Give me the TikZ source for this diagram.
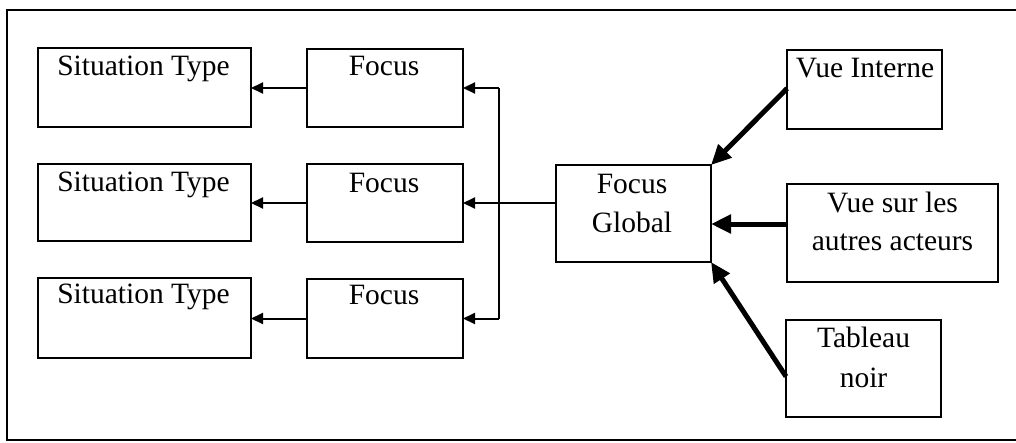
\documentclass[tikz,border=0pt]{standalone}
\usepackage{fontspec}
\setmainfont{Liberation Serif}
\usetikzlibrary{arrows.meta}
\newcommand\bx[5]{\node[box, minimum width={#4-#2}, minimum height={#5-#3}] (#1) at ({(#2+#4)/2},{(#3+#5)/2}) {};}
\begin{document}
\begin{tikzpicture}[x=1pt,y=-1pt,
 box/.style={draw, line width=2pt, inner sep=0pt, outer sep=0pt, rectangle},
 lbl/.style={anchor=base, inner sep=0pt, font=\fontsize{29.5}{36}\selectfont},
 smallarrow/.style={line width=2pt, -{Triangle[length=12pt,width=11pt]}},
 bigarrow/.style={line width=5pt, -{Triangle[length=20pt,width=18pt]}}]
\useasboundingbox (0,0) rectangle (1016,442);
\draw[line width=2pt] (1016,10) -- (7,10) -- (7,440) -- (1016,440);
% boxes
\bx{st1}{38}{48}{251}{127}
\bx{st2}{38}{164}{251}{241}
\bx{st3}{38}{278}{251}{358}
\bx{f1}{307}{49}{463}{127}
\bx{f2}{307}{164}{463}{242}
\bx{f3}{307}{279}{463}{358}
\bx{fg}{556}{165}{711}{262}
\bx{vi}{787}{50}{942}{129}
\bx{vs}{787}{184}{998}{282}
\bx{tn}{786}{320}{941}{417}
% texts
\node[lbl] (st1t) at (143.5,75) {Situation Type};
\node[lbl] (st2t) at (143.5,191) {Situation Type};
\node[lbl] (st3t) at (143.5,303) {Situation Type};
\node[lbl] (f1t) at (384,75) {Focus};
\node[lbl] (f2t) at (384,192) {Focus};
\node[lbl] (f3t) at (384,304) {Focus};
\node[lbl] (fgt1) at (632,193) {Focus};
\node[lbl] (fgt2) at (632,232) {Global};
\node[lbl] (vit) at (865,77) {Vue Interne};
\node[lbl] (vst1) at (892.5,212) {Vue sur les};
\node[lbl] (vst2) at (892.5,250) {autres acteurs};
\node[lbl] (tnt1) at (863.5,347) {Tableau};
\node[lbl] (tnt2) at (863.5,387) {noir};
% connectors
\draw[smallarrow] (f1.west) -- (st1.east |- f1.west);
\draw[smallarrow] (f2.west) -- (st2.east |- f2.west);
\draw[smallarrow] (f3.west) -- (st3.east |- f3.west);
\coordinate (jx) at (499,0);
\draw[smallarrow] (fg.west |- f2.east) -- (f2.east);
\draw[line width=2pt] (jx |- f1.east) -- (jx |- f3.east);
\draw[smallarrow] (jx |- f1.east) -- (f1.east);
\draw[smallarrow] (jx |- f3.east) -- (f3.east);
\draw[bigarrow] ([yshift=1pt]vi.west) -- (fg.north east);
\coordinate (vsa) at ([yshift=9pt]vs.west);
\draw[bigarrow] (vsa) -- (fg.east |- vsa);
\draw[bigarrow] ([yshift=-8pt]tn.west) -- (fg.south east);
\end{tikzpicture}
\end{document}
